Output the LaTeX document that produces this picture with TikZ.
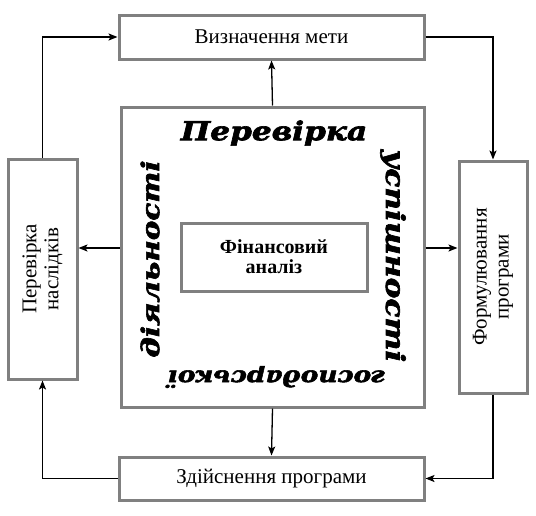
\documentclass[tikz,border=0pt]{standalone}
\usepackage{fontspec}
\setmainfont{Liberation Serif}
\newfontfamily\decofont[FakeStretch=1.2, FakeBold=2.5]{DejaVu Serif}
\definecolor{boxgray}{RGB}{128,128,128}
\usetikzlibrary{arrows.meta, positioning}

\begin{document}
\begin{tikzpicture}[x=1pt, y=-1pt,
    blk/.style={draw=boxgray, line width=3pt, fill=white, inner sep=0pt, align=center,
      font=\fontsize{21}{22}\selectfont},
    arr/.style={-{Stealth[length=9pt, width=7pt, inset=2pt]}, line width=1.3pt},
    deco/.style={font=\decofont\bfseries\itshape\fontsize{26}{26}\selectfont}]
  \useasboundingbox (0,0) rectangle (536,515);

  % boxes
  \node[blk, minimum width=305, minimum height=44] (goal) at (271.5,37) {Визначення мети};
  \node[blk, minimum width=303, minimum height=300] (core) at (272.5,257) {};
  \node[blk, minimum width=186, minimum height=68, font=\bfseries\fontsize{20}{20}\selectfont]
    (fin) at (274,257) {Фінансовий\\аналіз};
  \node[blk, minimum width=220, minimum height=69, rotate=90] (check) at (42.5,269)
    {Перевірка\\наслідків};
  \node[blk, minimum width=232, minimum height=68, rotate=90] (form) at (493,277)
    {Формулювання\\програми};
  \node[blk, minimum width=305, minimum height=43] (exec) at (271.5,478.5) {Здійснення програми};

  % words round the core
  \node[deco] (wtop) at (274,133) {Перевірка};
  \node[deco, rotate=-90] (wright) at (393,256) {успішності};
  \node[deco, rotate=180, font=\decofont\bfseries\itshape\fontsize{22}{22}\selectfont]
    (wbottom) at (277,377) {господарської};
  \node[deco, rotate=90, font=\decofont\bfseries\itshape\fontsize{24.5}{24.5}\selectfont]
    (wleft) at (150,259) {діяльності};

  % connectors
  \draw[arr] (core.north) -- (goal.south);
  \draw[arr] (core.south) -- (exec.north);
  \coordinate (cw) at ([yshift=9pt]core.west);
  \coordinate (ce) at ([yshift=9pt]core.east);
  \draw[arr] (cw) -- (cw -| check.south);
  \draw[arr] (ce) -- (ce -| form.north);
  \draw[arr] (goal.east) -| (form.east);
  \draw[arr] (form.west) |- (exec.east);
  \draw[arr] (exec.west) -| (check.west);
  \draw[arr] (check.east) |- (goal.west);
\end{tikzpicture}
\end{document}
